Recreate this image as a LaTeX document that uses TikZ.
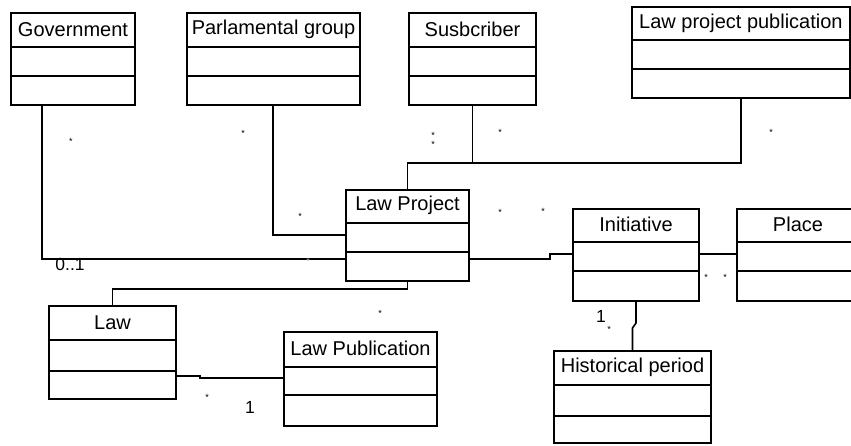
\documentclass[tikz,border=0pt]{standalone}
\usepackage{fontspec}
\setmainfont{Liberation Sans}
\usetikzlibrary{calc}
\tikzset{
  classbox/.style={draw, line width=1.6pt, inner sep=0pt, outer sep=0pt, fill=none},
  divider/.style={line width=1.6pt},
  ctitle/.style={inner sep=0pt, font=\fontsize{20}{22}\selectfont},
  conn/.style={line width=1.6pt},
  mult/.style={inner sep=0pt, font=\fontsize{9}{10}\selectfont},
  multnum/.style={inner sep=0pt, font=\fontsize{17.5}{18}\selectfont},
}
\newcommand\umlbox[7]{%
  \node[classbox, anchor=north west, minimum width={(#4-#2)*1pt}, minimum height={(#5-#3)*1pt}] (#1) at (#2,#3) {};
  \draw[divider] (#2,#6) -- (#4,#6);
  \draw[divider] (#2,#7) -- (#4,#7);
}
\begin{document}
\begin{tikzpicture}[x=1pt,y=-1pt]
\useasboundingbox (0,0) rectangle (851,445);
\clip (0,0) rectangle (851,445);
\fill[white] (0,0) rectangle (851,445);

% class boxes
\umlbox{gov}{11}{13}{135}{105}{47}{76}
\node[ctitle] (govt) at (73,29.5) {Government};
\umlbox{pg}{187}{13}{360}{105}{47}{76}
\node[ctitle] (pgt) at (273.5,29.5) {Parlamental group};
\umlbox{sub}{409}{13}{536}{105}{47}{76}
\node[ctitle] (subt) at (472.5,29.5) {Susbcriber};
\umlbox{lpp}{632}{7}{850}{98}{40}{69}
\node[ctitle, anchor=west] (lppt) at (639,23) {Law project publication};
\umlbox{lp}{346}{190}{469}{281}{223}{252}
\node[ctitle] (lpt) at (407.5,205.5) {Law Project};
\umlbox{ini}{573}{209}{699}{301}{242}{271}
\node[ctitle] (init) at (636,224.5) {Initiative};
\umlbox{place}{737}{209}{859}{301}{242}{271}
\node[ctitle] (placet) at (798,224.5) {Place};
\umlbox{law}{49}{306}{176}{399}{340}{371}
\node[ctitle] (lawt) at (112.5,322.5) {Law};
\umlbox{lpub}{284}{332}{437}{426}{367}{395}
\node[ctitle] (lpubt) at (360.5,348.5) {Law Publication};
\umlbox{hist}{554}{351}{711}{443}{385}{416}
\node[ctitle] (histt) at (632.5,367.5) {Historical period};

% junction and bend coordinates
\coordinate (jA) at (407.5,163);
\coordinate (jB1) at (550,259);
\coordinate (jB2) at (550,254);
\coordinate (jC1) at (636,323);
\coordinate (jC2) at (632.5,328);
\coordinate (jD) at (407.5,289);
\coordinate (jE1) at (200,376);
\coordinate (jE2) at (200,378);

% connectors
\draw[conn] ([xshift=31pt]gov.south west) |- ([yshift=-69pt]lp.north west);
\draw[conn] ([xshift=86pt]pg.south west) |- ([yshift=-45pt]lp.north west);
\draw[conn] (sub.south) |- (jA) -- (lp.north);
\draw[conn] (lpp.south) |- (jA);
\draw[conn] ([yshift=-69pt]lp.north east) -- (jB1) -- (jB2) -- ([yshift=-45pt]ini.north west);
\draw[conn] ([yshift=-45pt]ini.north east) -- ([yshift=-45pt]place.north west);
\draw[conn] (ini.south) -- (jC1) -- (jC2) -- (hist.north);
\draw[conn] (lp.south) -- (jD) -| (law.north);
\draw[conn] ([yshift=-70pt]law.north east) -- (jE1) -- (jE2) -- ([yshift=-46pt]lpub.north west);

% multiplicities
\node[mult] (m1) at (71,141) {*};
\node[mult] (m2) at (243,133) {*};
\node[mult] (m3) at (300,216) {*};
\node[mult] (m4a) at (433,135) {*};
\node[mult] (m4b) at (433,144) {*};
\node[mult] (m5) at (500,132) {*};
\node[mult] (m6) at (771,132) {*};
\node[mult] (m7) at (500,212) {*};
\node[mult] (m8) at (543,211) {*};
\node[mult] (m9) at (706,277) {*};
\node[mult] (m10) at (725,277) {*};
\node[mult] (m11) at (380,313) {*};
\node[mult] (m12) at (207,397) {*};
\node[mult] (m13) at (609,329) {*};
\node[mult, text=black!30] (m14) at (308,261) {*};
\node[multnum] (n1) at (70,264) {0..1};
\node[multnum] (n2) at (601,316) {1};
\node[multnum] (n3) at (250,407.5) {1};
\end{tikzpicture}
\end{document}
